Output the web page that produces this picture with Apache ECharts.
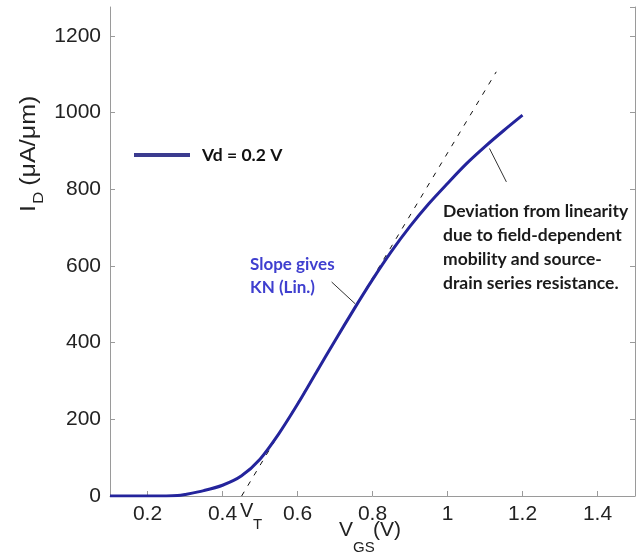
<!DOCTYPE html>
<html>
<head>
<meta charset="utf-8">
<script src="https://cdn.jsdelivr.net/npm/echarts@6/dist/echarts.min.js"></script>
<style>
  html, body { margin: 0; padding: 0; background: #fff; }
  #chart { width: 642px; height: 554px; }
</style>
</head>
<body>
<div id="chart"></div>
<script>
// I-V curve, Vd = 0.2 V
const vgs = [0.10, 0.15, 0.20, 0.25, 0.28, 0.30, 0.35, 0.40, 0.45, 0.50, 0.55, 0.60, 0.65, 0.70, 0.75, 0.80, 0.85, 0.90, 0.95, 1.00, 1.05, 1.10, 1.15, 1.20];
const idCurrent = [0, 0, 0, 0, 1, 4, 14, 28, 52, 96, 162, 239, 322, 405, 486, 564, 637, 703, 762, 815, 866, 911, 953, 993];
// linear extrapolation (slope gives KN), from VT
const tangentV = [0.451, 1.13];
const tangentI = [0, 1106];
// leader lines for the two notes
const slopePointer = [[0.691, 558], [0.754, 501]];
const devPointer = [[1.112, 906], [1.157, 819]];
const seriesName = "Vd = 0.2 V";

const TICK_FONT = "Liberation Sans";
const NOTE_FONT = "Lato";

const chart = echarts.init(document.getElementById("chart"));

const axisCommon = {
  axisLine: { show: true, lineStyle: { color: "#9a9a9a", width: 1 } },
  axisTick: { show: true, inside: true, length: 5, lineStyle: { color: "#9a9a9a" } },
  splitLine: { show: false },
};

const option = {
  animation: false,
  backgroundColor: "#fff",
  grid: { left: 110, right: 7, top: 7, bottom: 58, containLabel: false },
  legend: {
    data: [seriesName],
    left: 129,
    top: 141,
    icon: "rect",
    itemWidth: 56,
    itemHeight: 4,
    itemStyle: { color: "#3b3b8f" },
    textStyle: { fontFamily: NOTE_FONT, fontWeight: "bold", fontSize: 17.5, color: "#111", padding: [0, 0, 0, 7] },
  },
  xAxis: {
    type: "value",
    min: 0.1,
    max: 1.5,
    splitNumber: 7,
    minInterval: 0.2,
    maxInterval: 0.2,
    ...axisCommon,
    axisLabel: {
      showMinLabel: false,
      showMaxLabel: false,
      margin: 8,
      fontFamily: TICK_FONT,
      fontSize: 21,
      color: "#222",
      formatter: (v) => String(v),
    },
  },
  yAxis: [{
    type: "value",
    min: 0,
    max: 1275,
    interval: 200,
    ...axisCommon,
    axisLabel: {
      showMaxLabel: false,
      margin: 9,
      fontFamily: TICK_FONT,
      fontSize: 21,
      color: "#222",
      formatter: (v) => String(v),
    },
  }, {
    type: "value",
    position: "right",
    min: 0,
    max: 1275,
    interval: 200,
    ...axisCommon,
    axisLabel: { show: false },
  }],
  series: [{
    name: seriesName,
    type: "line",
    data: vgs.map((v, i) => [v, idCurrent[i]]),
    smooth: 0.3,
    showSymbol: false,
    z: 3,
    lineStyle: { color: "#24249c", width: 3 },
    itemStyle: { color: "#3b3b8f" },
    markLine: {
      silent: true,
      symbol: "none",
      label: { show: false },
      lineStyle: { color: "#333", width: 1, type: "solid" },
      data: [
        [{ coord: slopePointer[0] }, { coord: slopePointer[1] }],
        [{ coord: devPointer[0] }, { coord: devPointer[1] }],
      ],
    },
  }, {
    name: "tangent",
    type: "line",
    data: tangentV.map((v, i) => [v, tangentI[i]]),
    showSymbol: false,
    z: 2,
    lineStyle: { color: "#111", width: 1, type: [5, 7] },
  }],
  graphic: [
    // y axis title, rotated and stretched along its length
    {
      type: "group",
      x: 40,
      y: 212,
      rotation: Math.PI / 2,
      scaleX: 1.14,
      children: [
        { type: "text", x: 0, y: 0, style: { text: "I", font: "22px " + TICK_FONT, fill: "#222", textVerticalAlign: "bottom" } },
        { type: "text", x: 7, y: 6, style: { text: "D", font: "15px " + TICK_FONT, fill: "#222", textVerticalAlign: "bottom" } },
        { type: "text", x: 23, y: 0, style: { text: "(μA/μm)", font: "22px " + TICK_FONT, fill: "#222", textVerticalAlign: "bottom" } },
      ],
    },
    // x axis title
    {
      type: "group",
      x: 339,
      y: 541,
      children: [
        { type: "text", x: 0, y: 0, style: { text: "V", font: "21px " + TICK_FONT, fill: "#222", textVerticalAlign: "bottom" } },
        { type: "text", x: 14, y: 14, style: { text: "GS", font: "15px " + TICK_FONT, fill: "#222", textVerticalAlign: "bottom" } },
        { type: "text", x: 34, y: 0, style: { text: "(V)", font: "21px " + TICK_FONT, fill: "#222", textVerticalAlign: "bottom" } },
      ],
    },
    // V_T next to the 0.4 tick label
    {
      type: "group",
      x: 240,
      y: 521,
      children: [
        { type: "text", x: 0, y: 0, style: { text: "V", font: "20px " + TICK_FONT, fill: "#222", textVerticalAlign: "bottom" } },
        { type: "text", x: 13, y: 11, style: { text: "T", font: "15px " + TICK_FONT, fill: "#222", textVerticalAlign: "bottom" } },
      ],
    },
    // slope note
    {
      type: "text",
      left: 250,
      top: 253,
      style: {
        text: "Slope gives\nKN (Lin.)",
        font: "bold 17px " + NOTE_FONT,
        lineHeight: 23,
        fill: "#3f3fcf",
      },
    },
    // deviation note
    {
      type: "text",
      left: 443,
      top: 199,
      style: {
        text: "Deviation from linearity\ndue to field-dependent\nmobility and source-\ndrain series resistance.",
        font: "bold 17.5px " + NOTE_FONT,
        lineHeight: 24,
        fill: "#1a1a1a",
      },
    },
  ],
};

chart.setOption(option);
</script>
</body>
</html>
